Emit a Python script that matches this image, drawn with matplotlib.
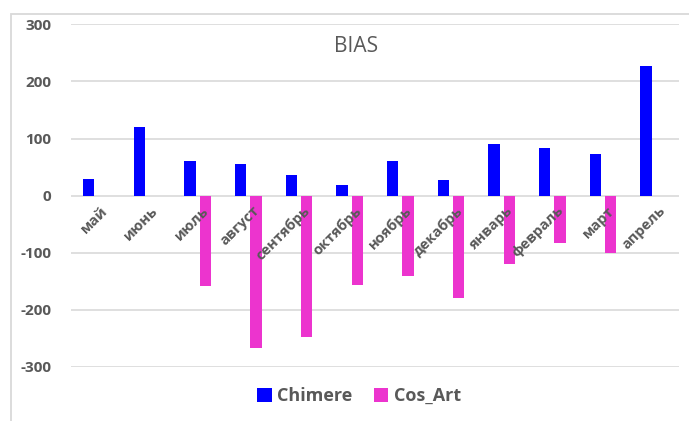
import numpy as np
import matplotlib.pyplot as plt
from matplotlib.patches import Rectangle

plt.rcParams['font.family'] = ['Open Sans', 'DejaVu Sans']
plt.rcParams['axes.unicode_minus'] = False

# Monthly BIAS values for the two models
months = ['май', 'июнь', 'июль', 'август', 'сентябрь', 'октябрь',
          'ноябрь', 'декабрь', 'январь', 'февраль', 'март', 'апрель']
chimere = [29, 120, 61, 55, 36, 19, 61, 27, 91, 83, 73, 227]
cos_art = [0, 0, -158, -267, -247, -156, -140, -180, -120, -83, -101, 0]

text_gray = '#595959'
grid_gray = '#d9d9d9'

fig = plt.figure(figsize=(6.89, 4.21), dpi=100)
ax = fig.add_axes([71 / 689, 1 - 367 / 421, 608 / 689, (367 - 24.3) / 421])

x = np.arange(len(months))
w = 0.22
ax.bar(x - 0.15, chimere, w, color='#0000FF', label='Chimere', zorder=3)
ax.bar(x + 0.15, cos_art, w, color='#EC34CE', label='Cos_Art', zorder=3)

ax.set_xlim(-0.5, len(months) - 0.5)
ax.set_ylim(-300, 300)
ax.set_yticks(np.arange(-300, 301, 100))
ax.yaxis.grid(True, color=grid_gray, linewidth=1.2, zorder=0)
ax.set_axisbelow(True)
for s in ax.spines.values():
    s.set_visible(False)
ax.tick_params(axis='both', length=0)
ax.tick_params(axis='y', labelsize=11, labelcolor=text_gray, pad=14)
for lbl in ax.get_yticklabels():
    lbl.set_fontweight('bold')
ax.set_xticks([])

# month labels hang just under the zero line, rotated like Excel does
for i, m in enumerate(months):
    ax.text(i + 0.08, -14, m, rotation=45, rotation_mode='anchor',
            ha='right', va='top', fontsize=10.5, color=text_gray,
            fontweight='bold', zorder=4)

fig.text(356 / 689, 1 - 46 / 421, 'BIAS', ha='center', va='center',
         fontsize=15, color=text_gray)

leg = fig.legend(loc='center', bbox_to_anchor=(359 / 689, 1 - 396 / 421),
                 ncol=2, frameon=False, fontsize=13, handlelength=0.8,
                 handleheight=0.8, handletextpad=0.3, columnspacing=1.2)
for t in leg.get_texts():
    t.set_color(text_gray)
    t.set_fontweight('bold')

# chart area outline
fig.patches.append(Rectangle((11 / 689, -0.1), 1.2, 1.1 - 14 / 421,
                             transform=fig.transFigure, fill=False,
                             edgecolor=grid_gray, linewidth=1.3))

fig.savefig('out.png', dpi=100)
